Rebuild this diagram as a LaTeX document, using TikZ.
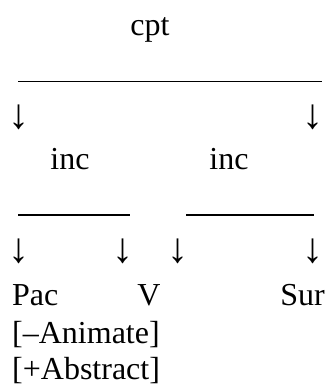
\documentclass[tikz,border=0pt]{standalone}
\usepackage{fontspec}
\setmainfont{Liberation Serif}
\begin{document}
\begin{tikzpicture}[x=1pt,y=-1pt,
  lbl/.style={inner sep=0pt,font=\fontsize{32}{37}\selectfont},
  arr/.style={inner sep=0pt,font=\fontsize{42}{48}\selectfont},
  bar/.style={line width=1.4pt}]
\useasboundingbox (0,0) rectangle (335,390);
\node[lbl,anchor=base] (cpt) at (150,36) {cpt};
\coordinate (t1) at (18,81.5); \coordinate (t2) at (322,81.5);
\draw[bar] (t1) -- (t2);
\node[arr,anchor=base] (a1) at (19,129) {↓};
\node[arr,anchor=base] (a2) at (313,129) {↓};
\node[lbl,anchor=base] (inc1) at (70,169) {inc};
\node[lbl,anchor=base] (inc2) at (229,169) {inc};
\coordinate (l1) at (18,215); \coordinate (l2) at (130,215);
\coordinate (r1) at (186,215); \coordinate (r2) at (314,215);
\draw[bar] (l1) -- (l2);
\draw[bar] (r1) -- (r2);
\node[arr,anchor=base] (b1) at (19,262) {↓};
\node[arr,anchor=base] (b2) at (123,262) {↓};
\node[arr,anchor=base] (b3) at (178,262) {↓};
\node[arr,anchor=base] (b4) at (313,262) {↓};
\node[lbl,anchor=base west] (pac) at (12,305) {Pac};
\node[lbl,anchor=base] (v) at (149,305) {V};
\node[lbl,anchor=base east] (sur) at (325,305) {Sur};
\node[lbl,anchor=base west] (anim) at (12,343) {[–Animate]};
\node[lbl,anchor=base west] (abs) at (12,379) {[+Abstract]};
\end{tikzpicture}
\end{document}
